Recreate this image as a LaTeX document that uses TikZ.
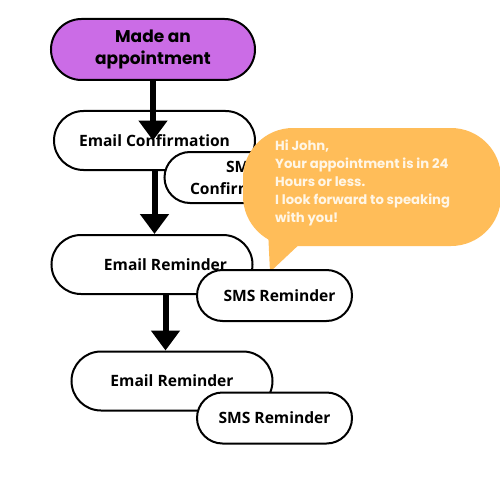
\documentclass[tikz,border=0pt]{standalone}
\usepackage{fontspec}
\setmainfont{Open Sans}
\newfontfamily\pop{Poppins}
\usetikzlibrary{arrows.meta}
\definecolor{purp}{HTML}{CB6CE6}
\definecolor{bub}{HTML}{FFBD59}
\definecolor{bubink}{HTML}{FFF6E6}
\begin{document}
\begin{tikzpicture}[x=1pt,y=-1pt,
  pill/.style={draw=black,line width=2pt,fill=white,rounded corners=29.5pt,minimum width=201pt,minimum height=59pt,inner sep=0pt,font=\bfseries\fontsize{15.6}{22}\selectfont,align=center},
  smspill/.style={pill,minimum width=155pt,minimum height=51pt,rounded corners=25.5pt},
  flow/.style={line width=6pt,-{Triangle[width=28pt,length=20pt]}},
  plain/.style={inner sep=0pt,font=\bfseries\fontsize{15.6}{22}\selectfont},
  bubtext/.style={anchor=base west,align=left,text=bubink,inner sep=0pt,font=\pop\bfseries\fontsize{13.2}{18}\selectfont},
]
\useasboundingbox (0,0) rectangle (500,500);
\fill[white] (0,0) rectangle (500,500);
\node[pill,fill=purp,minimum width=204pt,minimum height=61pt,rounded corners=30.5pt,font=\pop\bfseries\fontsize{17}{22}\selectfont] (made) at (153,49.5) {Made an\\appointment};
\node[pill] (ec) at (154.5,140.5) {Email Confirmation};
\draw[flow] (made.south) -- (made.south |- ec.center);
\node[smspill] (sc) at (242,177.5) {SMS\\Confirmation};
\fill[bub,rounded corners=50pt] (243,128) rectangle (501,246);
\fill[bub] (268,230) -- (270,272) -- (304,240) -- cycle;
\node[bubtext] (bt) at (275,222) {Hi John,\\Your appointment is in 24\\Hours or less.\\I look forward to speaking\\with you!};
\node[pill] (er1) at (152,264.5) {};
\node[plain] (er1t) at (165.5,265) {Email Reminder};
\draw[flow] (ec.south) -- (ec.south |- er1.north);
\node[smspill] (sr1) at (274.5,295.5) {\hspace*{10pt}SMS Reminder};
\node[pill] (er2) at (172,381) {Email Reminder};
\draw[flow] (er1t |- er1.south) -- (er1t |- er2.north);
\node[smspill] (sr2) at (274.5,418) {SMS Reminder};
\end{tikzpicture}
\end{document}
